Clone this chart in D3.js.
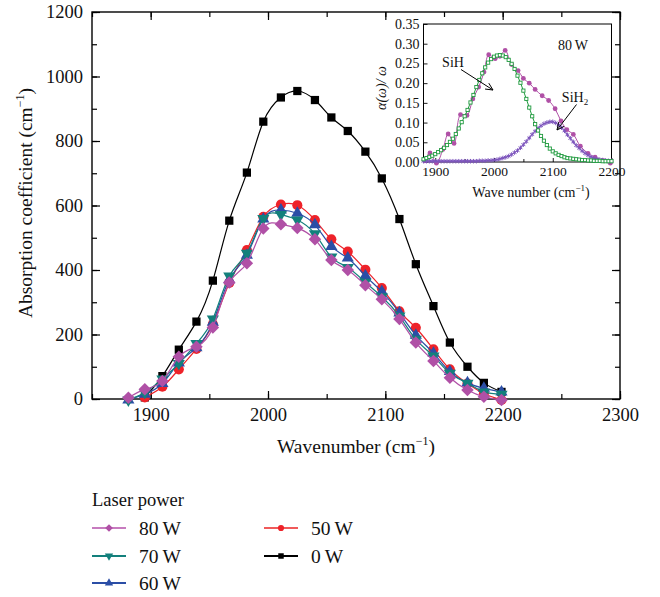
<!DOCTYPE html>
<html>
<head>
<meta charset="utf-8">
<script src="https://cdn.jsdelivr.net/npm/d3@7"></script>
<style>
  html, body { margin: 0; padding: 0; background: #fff; }
  svg { display: block; }
  text { font-family: 'Liberation Serif', 'Times New Roman', serif; fill: #111; }
</style>
</head>
<body>
<svg id="chart" width="660" height="597"></svg>
<script>
// ---------------- DATA ----------------
const wavenumbers = [1881, 1895, 1910, 1924, 1939, 1953, 1967, 1982, 1996, 2011, 2025, 2040, 2054, 2068, 2083, 2097, 2112, 2126, 2141, 2155, 2170, 2184, 2199];
const power0W  = [null, 5, 71, 153, 240, 367, 553, 702, 860, 935, 955, 927, 873, 831, 767, 684, 558, 418, 288, 175, 100, 50, 22];
const power50W = [null, 5, 38, 92, 155, 232, 360, 462, 565, 603, 601, 555, 495, 457, 401, 344, 272, 221, 154, 92, 48, 17, -3];
const power60W = [-3, 15, 48, 112, 159, 238, 370, 446, 558, 586, 576, 540, 473, 437, 382, 333, 267, 198, 142, 85, 50, 33, 22];
const power70W = [-3, 20, 62, 110, 172, 248, 381, 452, 560, 572, 555, 512, 440, 408, 362, 317, 257, 185, 133, 80, 49, 22, 15];
const power80W = [4, 30, 56, 131, 162, 222, 361, 421, 529, 542, 530, 495, 431, 400, 353, 309, 248, 175, 118, 66, 28, 7, -3];

const seriesNames  = ["0 W", "50 W", "60 W", "70 W", "80 W"];
const seriesColors = ["#000000", "#ee2229", "#2b4ea6", "#13807c", "#b050a6"];
const legendColors = ["#000000", "#f05a5a", "#2b4ea6", "#13807c", "#c77bbf"];
const seriesShapes = ["square", "circle", "triangleUp", "triangleDown", "diamond"];

const xTicks = [1900, 2000, 2100, 2200, 2300];
const yTicks = [0, 200, 400, 600, 800, 1000, 1200];

// Inset: 80 W spectrum, normalised, and its two fitted bands
const insetDataX = [1882, 1891, 1902, 1913, 1922, 1932, 1943, 1954, 1964, 1974, 1983, 1991, 2002, 2010, 2019, 2030, 2041, 2050, 2060, 2070, 2082, 2093, 2104, 2114, 2124, 2135, 2147, 2160, 2172, 2185, 2198];
const insetDataY = [0.003, 0.023, -0.003, 0.032, 0.071, 0.047, 0.120, 0.118, 0.160, 0.190, 0.228, 0.272, 0.262, 0.268, 0.283, 0.247, 0.232, 0.212, 0.200, 0.184, 0.168, 0.156, 0.135, 0.104, 0.082, 0.070, 0.040, 0.022, 0.012, 0.004, -0.003];

const fitX = [1880,1885,1890,1895,1900,1905,1910,1915,1920,1925,1930,1935,1940,1945,1950,1955,1960,1965,1970,1975,1980,1985,1990,1995,2000,2005,2010,2015,2020,2025,2030,2035,2040,2045,2050,2055,2060,2065,2070,2075,2080,2085,2090,2095,2100,2105,2110,2115,2120,2125,2130,2135,2140,2145,2150,2155,2160,2165,2170,2175,2180,2185,2190,2195,2200];
const fitSiH = [0.007,0.010,0.013,0.016,0.020,0.025,0.030,0.036,0.043,0.051,0.059,0.071,0.085,0.101,0.116,0.132,0.151,0.170,0.190,0.208,0.225,0.240,0.252,0.261,0.267,0.270,0.271,0.270,0.266,0.259,0.249,0.236,0.219,0.201,0.181,0.160,0.138,0.116,0.096,0.080,0.066,0.054,0.043,0.034,0.027,0.022,0.018,0.015,0.012,0.010,0.009,0.008,0.007,0.006,0.005,0.005,0.004,0.004,0.003,0.003,0.003,0.002,0.002,0.002,0.002];
const fitSiH2 = [0.002,0.002,0.002,0.002,0.002,0.002,0.002,0.002,0.002,0.002,0.002,0.002,0.002,0.002,0.002,0.002,0.002,0.002,0.002,0.003,0.003,0.003,0.004,0.004,0.005,0.006,0.008,0.010,0.012,0.015,0.019,0.024,0.029,0.036,0.044,0.052,0.061,0.070,0.078,0.086,0.092,0.097,0.100,0.102,0.102,0.099,0.094,0.087,0.079,0.069,0.060,0.051,0.042,0.035,0.028,0.022,0.017,0.013,0.010,0.008,0.006,0.005,0.004,0.003,0.003];

const insetXTicks = [1900, 2000, 2100, 2200];
const insetYTicks = [0, 0.05, 0.10, 0.15, 0.20, 0.25, 0.30, 0.35];

// ---------------- DRAW ----------------
const svg = d3.select("#chart");
const FONT = "'Liberation Serif', 'Times New Roman', serif";

const x = d3.scaleLinear().domain([1850, 2300]).range([92, 620]);
const y = d3.scaleLinear().domain([0, 1200]).range([399, 12]);

function symbolPath(shape, size) {
  const map = { square: d3.symbolSquare, circle: d3.symbolCircle, triangleUp: d3.symbolTriangle,
                triangleDown: d3.symbolTriangle, diamond: d3.symbolSquare };
  return d3.symbol().type(map[shape]).size(size)();
}
function symbolRotate(shape) {
  if (shape === "triangleDown") return 180;
  if (shape === "diamond") return 45;
  return 0;
}
const markerSize = { square: 68, circle: 80, triangleUp: 64, triangleDown: 64, diamond: 78 };

// Frame
const g = svg.append("g");
g.append("rect").attr("x", x.range()[0]).attr("y", y.range()[1])
  .attr("width", x.range()[1] - x.range()[0]).attr("height", y.range()[0] - y.range()[1])
  .attr("fill", "none").attr("stroke", "#000").attr("stroke-width", 1.4);

function styleAxis(sel, fs) {
  sel.select(".domain").remove();
  sel.selectAll(".tick line").attr("stroke", "#000").attr("stroke-width", 1.2);
  sel.selectAll(".tick text").attr("font-family", FONT).attr("font-size", fs).attr("fill", "#111");
}

const xMinor = d3.range(1850, 2301, 50);
const yMinor = d3.range(0, 1201, 100);
// bottom
g.append("g").attr("transform", `translate(0,${y.range()[0]})`)
  .call(d3.axisBottom(x).tickValues(xMinor).tickSize(-5).tickFormat("")).call(s => styleAxis(s, 18));
g.append("g").attr("transform", `translate(0,${y.range()[0]})`)
  .call(d3.axisBottom(x).tickValues(xTicks).tickSize(-8).tickPadding(9).tickFormat(d3.format("d"))).call(s => styleAxis(s, 18.5));
// top
g.append("g").attr("transform", `translate(0,${y.range()[1]})`)
  .call(d3.axisTop(x).tickValues(xMinor).tickSize(-5).tickFormat("")).call(s => styleAxis(s, 18));
g.append("g").attr("transform", `translate(0,${y.range()[1]})`)
  .call(d3.axisTop(x).tickValues(xTicks).tickSize(-8).tickFormat("")).call(s => styleAxis(s, 18));
// left
g.append("g").attr("transform", `translate(${x.range()[0]},0)`)
  .call(d3.axisLeft(y).tickValues(yMinor).tickSize(-5).tickFormat("")).call(s => styleAxis(s, 18));
g.append("g").attr("transform", `translate(${x.range()[0]},0)`)
  .call(d3.axisLeft(y).tickValues(yTicks).tickSize(-8).tickPadding(9).tickFormat(d3.format("d"))).call(s => styleAxis(s, 18.5));
// right
g.append("g").attr("transform", `translate(${x.range()[1]},0)`)
  .call(d3.axisRight(y).tickValues(yMinor).tickSize(-5).tickFormat("")).call(s => styleAxis(s, 18));
g.append("g").attr("transform", `translate(${x.range()[1]},0)`)
  .call(d3.axisRight(y).tickValues(yTicks).tickSize(-8).tickFormat("")).call(s => styleAxis(s, 18));

// Axis titles
const yTitle = svg.append("text").attr("transform", "translate(32,203) rotate(-90)")
  .attr("text-anchor", "middle").attr("font-size", 19.5);
yTitle.append("tspan").text("Absorption coefficient (cm");
yTitle.append("tspan").text("\u22121").attr("font-size", 12).attr("dy", -8);
yTitle.append("tspan").text(")").attr("dy", 8);

const xTitle = svg.append("text").attr("x", 356).attr("y", 453)
  .attr("text-anchor", "middle").attr("font-size", 19.5);
xTitle.append("tspan").text("Wavenumber (cm");
xTitle.append("tspan").text("\u22121").attr("font-size", 12).attr("dy", -8);
xTitle.append("tspan").text(")").attr("dy", 8);

// Series
const allSeries = [power0W, power50W, power60W, power70W, power80W];
const line = d3.line().defined(d => d[1] !== null).x(d => x(d[0])).y(d => y(d[1])).curve(d3.curveNatural);

allSeries.forEach((vals, i) => {
  const pts = wavenumbers.map((w, j) => [w, vals[j]]).filter(d => d[1] !== null);
  const sg = svg.append("g");
  sg.append("path").datum(pts).attr("d", line).attr("fill", "none")
    .attr("stroke", seriesColors[i]).attr("stroke-width", 1.2);
  sg.selectAll("path.m").data(pts).join("path").attr("class", "m")
    .attr("d", symbolPath(seriesShapes[i], markerSize[seriesShapes[i]]))
    .attr("transform", d => `translate(${x(d[0])},${y(d[1])}) rotate(${symbolRotate(seriesShapes[i])})`)
    .attr("fill", seriesColors[i]);
});

// Legend
svg.append("text").attr("x", 92).attr("y", 506).attr("font-size", 18.5).text("Laser power");
const legendOrder = [4, 1, 3, 0, 2];
const legendPos = [[92, 528], [264, 528], [92, 556], [264, 556], [92, 583]];
legendOrder.forEach((si, k) => {
  const [lx, ly] = legendPos[k];
  const lg = svg.append("g");
  lg.append("line").attr("x1", lx).attr("x2", lx + 34).attr("y1", ly).attr("y2", ly)
    .attr("stroke", legendColors[si]).attr("stroke-width", 1.8);
  lg.append("path").attr("d", symbolPath(seriesShapes[si], 30))
    .attr("transform", `translate(${lx + 17},${ly}) rotate(${symbolRotate(seriesShapes[si])})`)
    .attr("fill", seriesColors[si]);
  lg.append("text").attr("x", lx + 47).attr("y", ly + 6.5).attr("font-size", 19.5).text(seriesNames[si].replace(" ", "\u2009"));
});

// ---------------- INSET ----------------
const ix = d3.scaleLinear().domain([1880, 2200]).range([423.5, 611.5]);
const iy = d3.scaleLinear().domain([0, 0.35]).range([162, 24]);
const ig = svg.append("g");
ig.append("rect").attr("x", ix.range()[0]).attr("y", iy.range()[1])
  .attr("width", ix.range()[1] - ix.range()[0]).attr("height", iy.range()[0] - iy.range()[1])
  .attr("fill", "#fff").attr("stroke", "#000").attr("stroke-width", 1);

ig.append("g").attr("transform", `translate(0,${iy.range()[0]})`)
  .call(d3.axisBottom(ix).tickValues(insetXTicks).tickSize(-4).tickPadding(4).tickFormat(d3.format("d")))
  .call(s => styleAxis(s, 13.5));
ig.append("g").attr("transform", `translate(0,${iy.range()[0]})`)
  .call(d3.axisBottom(ix).tickValues([1950, 2050, 2150]).tickSize(-3).tickFormat(""))
  .call(s => styleAxis(s, 13));
ig.append("g").attr("transform", `translate(${ix.range()[0]},0)`)
  .call(d3.axisLeft(iy).tickValues(insetYTicks).tickSize(-4).tickPadding(4).tickFormat(d3.format(".2f")))
  .call(s => styleAxis(s, 14));
ig.selectAll(".tick line").attr("stroke-width", 0.9);

// Fit bands
const iline = d3.line().x(d => ix(d[0])).y(d => iy(d[1]));
const sihPts = fitX.map((w, j) => [w, fitSiH[j]]);
const sih2Pts = fitX.map((w, j) => [w, fitSiH2[j]]);
const dataPts = insetDataX.map((w, j) => [w, insetDataY[j]]);

ig.append("path").datum(dataPts).attr("d", iline.curve(d3.curveCatmullRom)).attr("fill", "none")
  .attr("stroke", "#b050a6").attr("stroke-width", 1);
ig.selectAll("circle.d").data(dataPts).join("circle").attr("class", "d")
  .attr("cx", d => ix(d[0])).attr("cy", d => iy(d[1])).attr("r", 2.4).attr("fill", "#b050a6");

ig.append("path").datum(sih2Pts).attr("d", iline.curve(d3.curveLinear)).attr("fill", "none")
  .attr("stroke", "#7d55bd").attr("stroke-width", 1);
ig.selectAll("path.s2").data(sih2Pts).join("path").attr("class", "s2")
  .attr("d", d3.symbol().type(d3.symbolAsterisk).size(14)())
  .attr("transform", d => `translate(${ix(d[0])},${iy(d[1])})`)
  .attr("fill", "none").attr("stroke", "#7d55bd").attr("stroke-width", 1);

ig.append("path").datum(sihPts).attr("d", iline.curve(d3.curveLinear)).attr("fill", "none")
  .attr("stroke", "#1f9a3e").attr("stroke-width", 1);
ig.selectAll("rect.s1").data(sihPts).join("rect").attr("class", "s1")
  .attr("x", d => ix(d[0]) - 1.6).attr("y", d => iy(d[1]) - 1.6).attr("width", 3.2).attr("height", 3.2)
  .attr("fill", "#fff").attr("stroke", "#1f9a3e").attr("stroke-width", 0.9);

// Inset labels
ig.append("text").attr("transform", "translate(386,88) rotate(-90)")
  .attr("text-anchor", "middle").attr("font-size", 14).attr("font-style", "italic")
  .text("\u03b1(\u03c9)/ \u03c9");
const ixTitle = ig.append("text").attr("x", 531).attr("y", 197).attr("text-anchor", "middle").attr("font-size", 14);
ixTitle.append("tspan").text("Wave number (cm");
ixTitle.append("tspan").text("\u22121").attr("font-size", 9).attr("dy", -6);
ixTitle.append("tspan").text(")").attr("dy", 6);

ig.append("text").attr("x", 573).attr("y", 50).attr("text-anchor", "middle").attr("font-size", 14).text("80\u2009W");
ig.append("text").attr("x", 453).attr("y", 67).attr("text-anchor", "middle").attr("font-size", 14).text("SiH");
const sih2Lbl = ig.append("text").attr("x", 575).attr("y", 102).attr("text-anchor", "middle").attr("font-size", 14);
sih2Lbl.append("tspan").text("SiH");
sih2Lbl.append("tspan").text("2").attr("font-size", 9).attr("dy", 3);

// Arrows
function arrow(x1, y1, x2, y2) {
  const a = Math.atan2(y2 - y1, x2 - x1), L = 8, w = 0.45;
  ig.append("line").attr("x1", x1).attr("y1", y1).attr("x2", x2).attr("y2", y2)
    .attr("stroke", "#000").attr("stroke-width", 1);
  const p1 = [x2 - L * Math.cos(a - w), y2 - L * Math.sin(a - w)];
  const p2 = [x2 - L * Math.cos(a + w), y2 - L * Math.sin(a + w)];
  ig.append("path").attr("d", `M${p1[0]},${p1[1]}L${x2},${y2}L${p2[0]},${p2[1]}`)
    .attr("fill", "none").attr("stroke", "#000").attr("stroke-width", 1);
}
arrow(461, 69.5, 493, 90);
arrow(576.5, 104.5, 557, 130);
</script>
</body>
</html>
